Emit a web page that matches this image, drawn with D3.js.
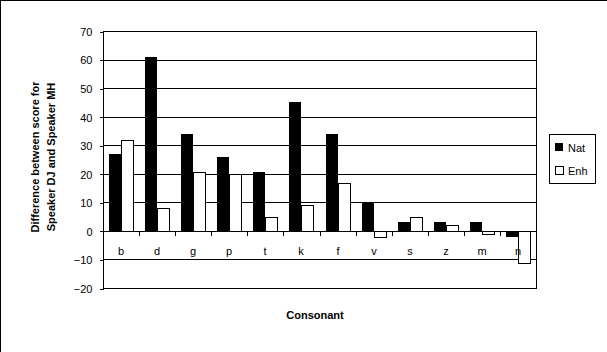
<!DOCTYPE html>
<html><head><meta charset="utf-8">
<script src="https://cdn.jsdelivr.net/npm/d3@7"></script>
<style>
html,body{margin:0;padding:0;background:#fff;}
text{font-family:"Liberation Sans",Arial,sans-serif;fill:#000;}
</style></head>
<body>
<svg id="c" width="607" height="352"></svg>
<script>
const categories = ["b","d","g","p","t","k","f","v","s","z","m","n"];
const natValues = [27, 61, 34, 26, 20.6, 45, 34, 10, 3, 3, 3, -2];
const enhValues = [32, 8, 20.5, 20, 5, 9, 16.7, -2, 5, 2, -1.2, -11.3];
const seriesNames = ["Nat", "Enh"];
const yTicks = [70, 60, 50, 40, 30, 20, 10, 0, -10, -20];

const svg = d3.select("#c");
svg.attr("shape-rendering","crispEdges");
// outer frame (left & top)
svg.append("line").attr("x1",0.5).attr("x2",0.5).attr("y1",0).attr("y2",352).attr("stroke","#000");
svg.append("line").attr("x1",0).attr("x2",607).attr("y1",0.5).attr("y2",0.5).attr("stroke","#000");

const L = 103, R = 536, T = 31, B = 288;
const y = d3.scaleLinear().domain([-20, 70]).range([B, T]);
const x0 = d3.scaleBand().domain(categories).range([L, R]).paddingInner(1/3).paddingOuter(1/6);
const x1 = d3.scaleBand().domain(seriesNames).range([0, x0.bandwidth()]);
const step = x0.step();

const data = categories.map((c,i)=>({c, vals:[{s:"Nat",v:natValues[i]},{s:"Enh",v:enhValues[i]}]}));

// gridlines
svg.append("g").selectAll("line").data(yTicks).join("line")
  .attr("x1",L).attr("x2",R)
  .attr("y1",d=>Math.round(y(d))+0.5).attr("y2",d=>Math.round(y(d))+0.5)
  .attr("stroke","#000");
// plot border
svg.append("rect").attr("x",L+0.5).attr("y",Math.round(T)+0.5).attr("width",R-L).attr("height",Math.round(B)-Math.round(T))
  .attr("fill","none").attr("stroke","#000");

// y axis
const yAxis = d3.axisLeft(y).tickValues(yTicks).tickSize(4).tickPadding(7).tickFormat(d3.format("d"));
const gy = svg.append("g").attr("transform",`translate(${L+0.5},0.5)`).call(yAxis);
gy.select(".domain").remove();
gy.selectAll("line").attr("stroke","#000");
gy.selectAll("text").attr("font-size","11px").attr("font-family","Liberation Sans, Arial, sans-serif").attr("fill","#000").attr("dy","0.35em");

// bars
const g = svg.append("g").selectAll("g").data(data).join("g")
  .attr("transform",d=>`translate(${Math.round(x0(d.c))},0)`);
g.selectAll("rect").data(d=>d.vals).join("rect")
  .attr("x",d=>Math.round(x1(d.s))+ (d.s==="Enh"?0.5:0))
  .attr("y",d=>Math.round(y(Math.max(0,d.v)))+(d.s==="Enh"?0.5:0))
  .attr("width",d=>Math.round(x1.bandwidth()))
  .attr("height",d=>Math.max(1,Math.round(Math.abs(y(d.v)-y(0)))))
  .attr("fill",d=>d.s==="Nat"?"#000":"#fff")
  .attr("stroke",d=>d.s==="Nat"?"none":"#000");

// zero axis with ticks between categories
const y0 = Math.round(y(0))+0.5;
svg.append("line").attr("x1",L).attr("x2",R).attr("y1",y0).attr("y2",y0).attr("stroke","#000");
svg.append("g").selectAll("line").data(categories.slice(1)).join("line")
  .attr("x1",d=>Math.round(x0(d)-step/6)+0.5).attr("x2",d=>Math.round(x0(d)-step/6)+0.5)
  .attr("y1",y0).attr("y2",y0+4).attr("stroke","#000");

// category labels
svg.append("g").selectAll("text").data(categories).join("text")
  .attr("x",d=>Math.round(x0(d)+x0.bandwidth()/2)).attr("y",255)
  .attr("text-anchor","middle").attr("font-size","11px").attr("fill","#000").text(d=>d);

// axis titles
svg.append("text").attr("x",315).attr("y",319).attr("text-anchor","middle")
  .attr("font-size","11px").attr("font-weight","bold").text("Consonant");
const yt = svg.append("text").attr("transform","translate(39,157) rotate(-90)")
  .attr("text-anchor","middle").attr("font-size","11px").attr("font-weight","bold");
yt.append("tspan").attr("x",0).attr("y",0).text("Difference between score for");
yt.append("tspan").attr("x",0).attr("y",16).text("Speaker DJ and Speaker MH");

// legend
const lg = svg.append("g");
lg.append("rect").attr("x",549.5).attr("y",134.5).attr("width",46).attr("height",49).attr("fill","#fff").attr("stroke","#000");
const li = lg.selectAll("g").data(seriesNames).join("g")
  .attr("transform",(d,i)=>`translate(555,${143+i*23})`);
li.append("rect").attr("x",d=>d==="Enh"?0.5:0).attr("y",d=>d==="Enh"?0.5:0)
  .attr("width",8).attr("height",8)
  .attr("fill",d=>d==="Nat"?"#000":"#fff").attr("stroke",d=>d==="Nat"?"none":"#000");
li.append("text").attr("x",13).attr("y",8.5).attr("font-size","11px").text(d=>d);
</script>
</body></html>
